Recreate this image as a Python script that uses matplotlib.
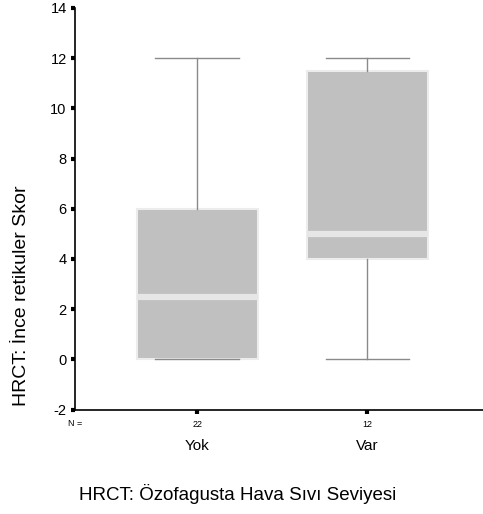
import matplotlib
matplotlib.use("Agg")
import matplotlib.pyplot as plt
import matplotlib.transforms as mtransforms

# Box plot summary values
categories = ["Yok", "Var"]
n_counts = [22, 12]
whisker_low = [0, 0]
q1 = [0, 4]
medians = [2.5, 5]
q3 = [6, 11.5]
whisker_high = [12, 12]
yticks = [-2, 0, 2, 4, 6, 8, 10, 12, 14]

plt.rcParams["font.family"] = ["Liberation Sans", "DejaVu Sans"]

fig = plt.figure(figsize=(4.83, 5.14), dpi=100)
ax = fig.add_axes([0.1553, 0.2023, 0.8447, 0.7823])

stats = []
for i in range(len(categories)):
    stats.append({
        "label": str(n_counts[i]),
        "whislo": whisker_low[i],
        "q1": q1[i],
        "med": medians[i],
        "q3": q3[i],
        "whishi": whisker_high[i],
        "fliers": [],
    })

ax.bxp(stats, positions=[1, 2], widths=0.71, patch_artist=True,
       showfliers=False,
       boxprops=dict(facecolor="#c0c0c0", edgecolor="#ececec", linewidth=1.5),
       medianprops=dict(color="#e6e6e6", linewidth=4.5, solid_capstyle="butt"),
       whiskerprops=dict(color="#8a8a8a", linewidth=1),
       capprops=dict(color="#8a8a8a", linewidth=1),
       capwidths=0.49)

ax.set_xlim(0.282, 2.68)
ax.set_ylim(-2.02, 14.0)
ax.set_yticks(yticks)
ax.set_yticklabels([str(t) for t in yticks], fontsize=10.5)

ax.set_xticks([1, 2])
ax.set_xticklabels([str(n) for n in n_counts], fontsize=6.5)

for side in ["top", "right"]:
    ax.spines[side].set_visible(False)
for side in ["left", "bottom"]:
    ax.spines[side].set_linewidth(1.2)

ax.tick_params(axis="y", length=3, width=3, direction="out", pad=3)
ax.tick_params(axis="x", length=3, width=3, direction="out", pad=4)

# category names and N label under the axis
trans = mtransforms.blended_transform_factory(ax.transData, fig.transFigure)
for i, cat in enumerate(categories):
    ax.text(i + 1, 1 - 446 / 514, cat, transform=trans, ha="center", va="center", fontsize=11)
fig.text(75 / 483, 1 - 424 / 514, "N =", ha="center", va="center", fontsize=6.5)

fig.text(238 / 483, 1 - 494 / 514, "HRCT: Özofagusta Hava Sıvı Seviyesi",
         ha="center", va="center", fontsize=13.5)
fig.text(22 / 483, 1 - 296 / 514, "HRCT: İnce retikuler Skor", rotation=90,
         ha="center", va="center", fontsize=14)

fig.savefig("out.png", dpi=100)
